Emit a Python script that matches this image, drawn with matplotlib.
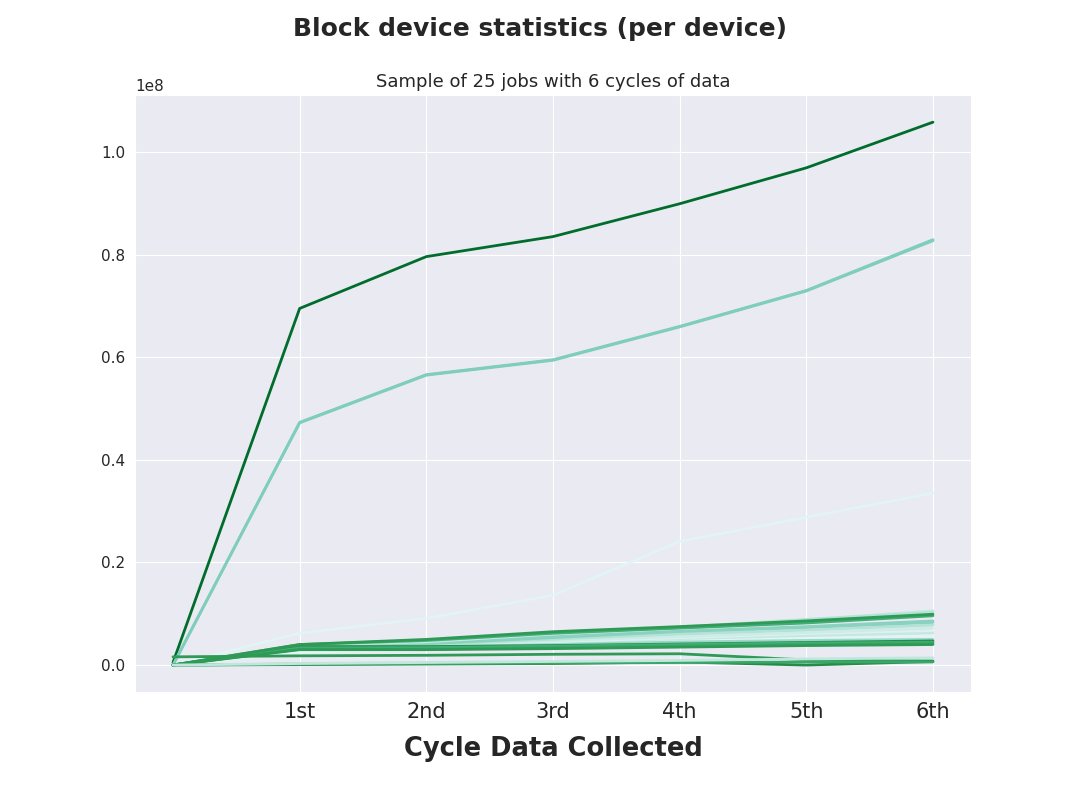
import matplotlib
matplotlib.use("Agg")
import matplotlib.pyplot as plt
import seaborn as sns

sns.set_style("darkgrid")
plt.rcParams['font.family'] = ['DejaVu Sans']

cycles = ['1st', '2nd', '3rd', '4th', '5th', '6th']

# block device totals per job (units of 1e8), start point then one value per cycle
jobs = [
    [0.005, 0.695, 0.796, 0.835, 0.899, 0.969, 1.058],
    [0.000, 0.473, 0.566, 0.595, 0.660, 0.730, 0.829],
    [0.000, 0.472, 0.565, 0.594, 0.659, 0.729, 0.827],
    [0.000, 0.062, 0.091, 0.136, 0.241, 0.288, 0.335],
    [0.000, 0.035, 0.045, 0.060, 0.072, 0.088, 0.106],
    [0.000, 0.038, 0.047, 0.062, 0.074, 0.089, 0.103],
    [0.000, 0.040, 0.048, 0.062, 0.072, 0.082, 0.096],
    [0.000, 0.033, 0.040, 0.055, 0.066, 0.075, 0.086],
    [0.000, 0.032, 0.038, 0.052, 0.064, 0.073, 0.083],
    [0.000, 0.030, 0.036, 0.048, 0.060, 0.068, 0.078],
    [0.000, 0.028, 0.034, 0.045, 0.055, 0.063, 0.072],
    [0.000, 0.027, 0.032, 0.042, 0.050, 0.058, 0.065],
    [0.000, 0.029, 0.033, 0.040, 0.048, 0.056, 0.062],
    [0.000, 0.025, 0.030, 0.038, 0.046, 0.052, 0.057],
    [0.000, 0.032, 0.035, 0.040, 0.045, 0.048, 0.050],
    [0.000, 0.036, 0.036, 0.038, 0.041, 0.044, 0.047],
    [0.000, 0.034, 0.033, 0.036, 0.039, 0.042, 0.045],
    [0.000, 0.033, 0.034, 0.037, 0.040, 0.043, 0.044],
    [0.000, 0.031, 0.031, 0.034, 0.037, 0.040, 0.042],
    [0.000, 0.030, 0.030, 0.032, 0.035, 0.038, 0.040],
    [0.000, 0.040, 0.050, 0.065, 0.075, 0.086, 0.099],
    [0.016, 0.018, 0.019, 0.021, 0.022, 0.010, 0.008],
    [0.000, 0.001, 0.002, 0.003, 0.006, 0.000, 0.007],
    [0.000, 0.002, 0.003, 0.004, 0.005, 0.006, 0.006],
    [0.000, 0.003, 0.005, 0.007, 0.009, 0.012, 0.014],
]

colors = [
    '#006d2c', '#7fcdbb', '#7fcdbb', '#e2f4f5', '#c9ebe3',
    '#b3e3d6', '#41ae76', '#8ad2bf', '#8ad2bf', '#b3e3d6',
    '#cdece6', '#dcf1f2', '#c5e9e0', '#e2f4f5', '#99d8c9',
    '#238b45', '#2e9a55', '#41ae76', '#3aa66a', '#2e9a55',
    '#2e9a55', '#2e9a55', '#238b45', '#3aa66a', '#bfe7dc',
]

fig, ax = plt.subplots(figsize=(10.8, 7.92), dpi=100)
fig.subplots_adjust(left=0.125, right=0.899, top=0.88, bottom=0.126)

x = list(range(len(cycles) + 1))
for vals, c in zip(jobs, colors):
    ax.plot(x, [v * 1e8 for v in vals], color=c, lw=2)

ax.set_xticks(x[1:])
ax.set_xticklabels(cycles, fontsize=15)
ax.tick_params(axis='y', labelsize=11)
ax.yaxis.get_offset_text().set_fontsize(11)
ax.set_xlabel('Cycle Data Collected', fontsize=18.5, fontweight='bold', labelpad=10)
ax.set_title('Sample of 25 jobs with 6 cycles of data', fontsize=13)
fig.suptitle('Block device statistics (per device)', fontsize=18, fontweight='bold', y=0.978)

fig.savefig('out.png', dpi=100)
